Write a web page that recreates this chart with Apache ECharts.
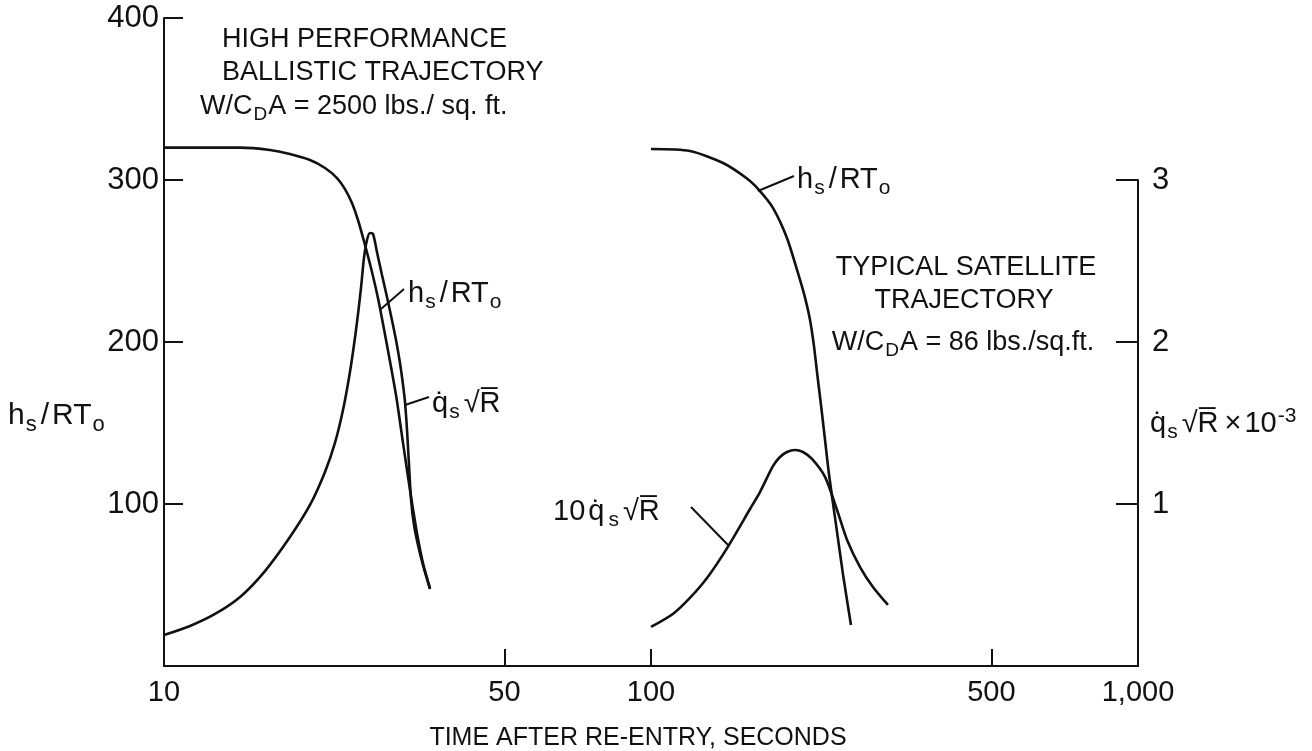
<!DOCTYPE html>
<html><head><meta charset="utf-8">
<script src="https://cdn.jsdelivr.net/npm/echarts@6/dist/echarts.min.js"></script>
<style>html,body{margin:0;padding:0;background:#fff}#c{width:1312px;height:751px}</style>
</head><body><div id="c"></div>
<script>
// ---- axis ticks ----
const xTickValues = [10, 50, 100, 500, 1000];
const xTickLabels = ['10', '50', '100', '500', '1,000'];
const leftTickValues = [100, 200, 300, 400];
const rightTickValues = [1, 2, 3];

// ---- high performance ballistic trajectory (W/CdA = 2500) ----
const ballisticHTime = [10, 11.86, 14.33, 16.51, 18.14, 19.94, 21.41, 22.66, 23.53, 24.32, 25.02, 25.74, 26.61, 27.50, 28.70, 29.95, 30.96, 32.00, 33.07, 34.02, 35.17];
const ballisticH     = [320, 320, 320, 318.5, 316, 312.3, 307.4, 301.2, 294.4, 285.8, 275.3, 262.3, 245.7, 227.2, 198.1, 167.3, 137.7, 108.6, 82.1, 63.6, 48.1];
const ballisticQTime = [10, 11.31, 12.73, 14.33, 16.12, 18.14, 19.94, 21.41, 22.44, 23.31, 24.09, 24.79, 25.38, 25.74, 26.11, 26.49, 26.87, 27.37, 28.03, 28.70, 29.38, 29.95, 30.52, 30.96, 31.25, 31.55, 31.85, 32.16, 32.61, 33.23, 34.02, 35.17];
const ballisticQ     = [19.1, 24.7, 32.1, 42.6, 58.6, 79.6, 99.4, 119.8, 137.7, 158.0, 181.5, 207.4, 233.3, 251.9, 263.0, 267.3, 266.7, 255.6, 241.4, 227.8, 213.6, 201.2, 187.0, 173.5, 163.0, 145.7, 124.1, 102.5, 87.0, 74.7, 62.3, 47.5];

// ---- typical satellite trajectory (W/CdA = 86) ----
const satelliteHTime = [100, 120.2, 140.6, 157.4, 167.4, 178.1, 190.2, 202.3, 207.2, 212.1, 216.1, 219.2, 223.4, 227.7, 232.1, 239.9, 248.0, 257.4];
const satelliteH     = [319.1, 317.9, 310.5, 300.9, 293.2, 282.7, 264.2, 238.3, 227.2, 213.6, 197.5, 181.5, 161.1, 139.5, 117.9, 87.0, 56.2, 25.3];
const satelliteQTime = [100, 110.9, 120.2, 130.3, 143.3, 159.7, 167.4, 178.1, 184.0, 190.2, 197.5, 205.1, 214.1, 227.7, 241.0, 252.7, 268.7, 285.6, 306.6];
const satelliteQ     = [24.1, 32.1, 42.0, 54.3, 72.8, 96.9, 107.4, 123.5, 129.0, 132.1, 133.3, 132.1, 127.8, 116.7, 96.3, 77.8, 61.1, 48.8, 37.7];

const zip = (a, b) => a.map((t, i) => [t, b[i]]);
const FF = '"Liberation Sans", Arial, sans-serif';
const INK = '#111';

const chart = echarts.init(document.getElementById('c'), null, {renderer: 'canvas'});

function rich(main, sub) {
  const base = {fontFamily: FF, fill: INK, color: INK};
  return {
    a: Object.assign({fontSize: main}, base),
    g: Object.assign({fontSize: main, padding: [0, 3, 0, 3]}, base),
    s: Object.assign({fontSize: sub, padding: [Math.round(main * 0.55), 1, 0, 1]}, base),
    p: Object.assign({fontSize: sub, padding: [0, 0, Math.round(main * 0.55), 1]}, base)
  };
}
function txt(x, y, text, size, align, r) {
  const st = {x: 0, y: 0, text: text, fontSize: size, fontFamily: FF, fill: INK,
    align: align || 'left', textAlign: align || 'left', verticalAlign: 'middle', textVerticalAlign: 'middle'};
  if (r) st.rich = r;
  return {type: 'text', x: x, y: y, style: st, z: 10};
}
function seg(x1, y1, x2, y2) {
  return {type: 'line', shape: {x1, y1, x2, y2}, style: {stroke: INK, lineWidth: 2}, z: 10};
}

const lineStyle = {color: INK, width: 2.6};
const mkSeries = (name, t, v) => ({
  name, type: 'line', xAxisIndex: 0, yAxisIndex: 0, data: zip(t, v),
  symbol: 'none', smooth: 0.25, lineStyle, silent: true
});

const option = {
  backgroundColor: '#fff',
  animation: false,
  grid: [
    {left: 164, right: 174, top: 18, bottom: 85, containLabel: false, outerBoundsMode: 'none'},
    {left: 164, right: 174, top: 180, bottom: 85, containLabel: false, outerBoundsMode: 'none'}
  ],
  xAxis: [
    {
      gridIndex: 0, type: 'log', logBase: 10, min: 10, max: 1000,
      axisLine: {lineStyle: {color: INK, width: 2}},
      axisTick: {inside: true, length: 17, customValues: [50, 100, 500], lineStyle: {color: INK, width: 2}},
      minorTick: {show: false},
      splitLine: {show: false},
      axisLabel: {
        customValues: xTickValues, margin: 12, color: INK, fontSize: 29, fontFamily: FF,
        formatter: v => { const i = xTickValues.findIndex(x => Math.abs(x - v) < 1e-6 * x); return i >= 0 ? xTickLabels[i] : ''; }
      }
    },
    {gridIndex: 1, type: 'log', logBase: 10, min: 10, max: 1000, show: false}
  ],
  yAxis: [
    {
      gridIndex: 0, type: 'value', min: 0, max: 400, interval: 100,
      axisLine: {show: true, lineStyle: {color: INK, width: 2}},
      axisTick: {show: true, inside: true, length: 19, lineStyle: {color: INK, width: 2}},
      splitLine: {show: false},
      axisLabel: {color: INK, fontSize: 31, fontFamily: FF, margin: 5,
        formatter: v => leftTickValues.includes(v) ? String(v) : ''}
    },
    {
      gridIndex: 1, type: 'value', position: 'right', min: 0, max: 3, interval: 1,
      axisLine: {show: true, lineStyle: {color: INK, width: 2}},
      axisTick: {show: true, inside: true, length: 22, lineStyle: {color: INK, width: 2}},
      splitLine: {show: false},
      axisLabel: {color: INK, fontSize: 31, fontFamily: FF, margin: 14,
        formatter: v => rightTickValues.includes(v) ? String(v) : ''}
    }
  ],
  series: [
    mkSeries('ballistic h', ballisticHTime, ballisticH),
    mkSeries('ballistic q', ballisticQTime, ballisticQ),
    mkSeries('satellite h', satelliteHTime, satelliteH),
    mkSeries('satellite q', satelliteQTime, satelliteQ)
  ],
  graphic: [
    // x axis title
    txt(638, 738, 'TIME AFTER RE-ENTRY, SECONDS', 25, 'center'),
    // ballistic title block
    txt(222, 40, 'HIGH PERFORMANCE', 27),
    txt(222, 73, 'BALLISTIC TRAJECTORY', 27),
    txt(200, 107, '{a|W/C}{s|D}{a|A = 2500 lbs./ sq. ft.}', 27, 'left', rich(27, 19)),
    // satellite title block
    txt(966, 268, 'TYPICAL SATELLITE', 27, 'center'),
    txt(964, 301, 'TRAJECTORY', 27, 'center'),
    txt(963, 343, '{a|W/C}{s|D}{a|A = 86 lbs./sq.ft.}', 27, 'center', rich(27, 19)),
    // axis names
    txt(8, 416, '{a|h}{s|s}{g|/}{a|RT}{s|o}', 30, 'left', rich(30, 22)),
    txt(1150, 424, '{a|q̇}{s|s}{g|√R̅}{g|×}{a|10}{p|-3}', 29, 'left', rich(29, 21)),
    // curve labels
    txt(408, 294, '{a|h}{s|s}{g|/}{a|RT}{s|o}', 29, 'left', rich(29, 21)),
    seg(381, 309, 404, 289),
    txt(432, 404, '{a|q̇}{s|s}{g|√R̅}', 29, 'left', rich(29, 21)),
    seg(405, 405, 429, 397),
    txt(797, 180, '{a|h}{s|s}{g|/}{a|RT}{s|o}', 29, 'left', rich(29, 21)),
    seg(758, 191, 794, 176),
    txt(553, 512, '{a|10}{g|q̇}{s|s}{g|√R̅}', 29, 'left', rich(29, 21)),
    seg(691, 507, 728, 545)
  ]
};
chart.setOption(option);
</script>
</body></html>
